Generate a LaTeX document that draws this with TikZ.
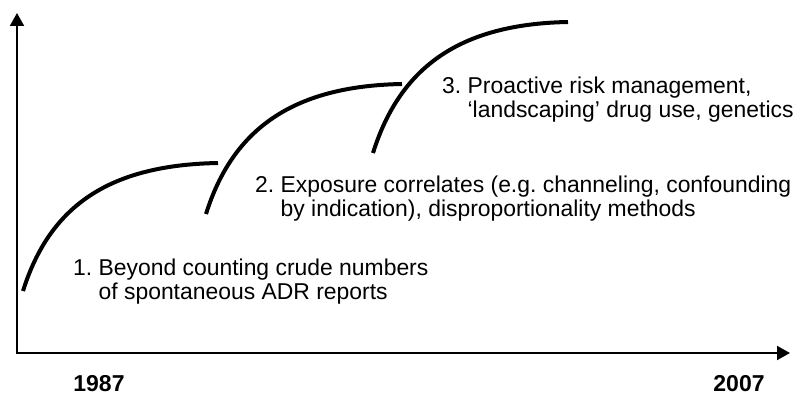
\documentclass[tikz,border=0pt]{standalone}
\usepackage{fontspec}
\setmainfont{Liberation Sans}
\usetikzlibrary{arrows.meta}
\begin{document}
\frenchspacing
\begin{tikzpicture}[x=1pt,y=-1pt,
  axis/.style={line width=2pt,line join=miter,{Triangle[length=13pt,width=14pt]}-{Triangle[length=13pt,width=14pt]}},
  phase/.style={line width=4pt},
  note/.style={anchor=base west,inner sep=0pt,align=left,
    font=\fontsize{22.9pt}{24.5pt}\selectfont},
  year/.style={anchor=base,inner sep=0pt,font=\fontsize{23pt}{26pt}\selectfont\bfseries}]
  \useasboundingbox (0,0) rectangle (795,395);

  % axes
  \coordinate (origin) at (17,353);
  \coordinate (ytip) at (17,13);
  \coordinate (xtip) at (790,353);
  \draw[axis] (ytip) -- (origin) -- (xtip);

  % three growth phases
  \coordinate (s1) at (23,291);  \coordinate (e1) at (218,163);
  \coordinate (s2) at (206,214); \coordinate (e2) at (402,84);
  \coordinate (s3) at (373,153); \coordinate (e3) at (568,22);
  \draw[phase] (s1) .. controls +(27,-86) and +(-108,2) .. (e1);
  \draw[phase] (s2) .. controls +(27,-86) and +(-108,2) .. (e2);
  \draw[phase] (s3) .. controls +(27,-86) and +(-108,2) .. (e3);

  % phase descriptions (anchored at the baseline of the second line)
  \node[note] (n1) at (73,300) {1. Beyond counting crude numbers\\
    \hphantom{1.\ }of spontaneous ADR reports};
  \node[note] (n2) at (255,217) {2. Exposure correlates (e.g. channeling, confounding\\
    \hphantom{2.\ }by indication), disproportionality methods};
  \node[note] (n3) at (442,118) {3. Proactive risk management,\\
    \hphantom{3.\ }`landscaping' drug use, genetics};

  % years
  \node[year] (y1) at (99,391) {1987};
  \node[year] (y2) at (739,391) {2007};
\end{tikzpicture}
\end{document}
